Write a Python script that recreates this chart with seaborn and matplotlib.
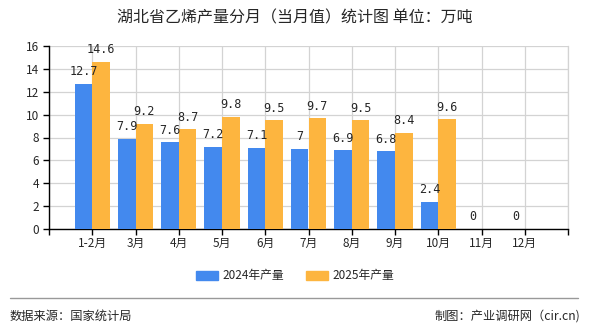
import numpy as np
import pandas as pd
import matplotlib
matplotlib.use("Agg")
import matplotlib.pyplot as plt
from matplotlib.lines import Line2D
import seaborn as sns

months = ["1-2月", "3月", "4月", "5月", "6月", "7月", "8月", "9月", "10月", "11月", "12月"]
v2024 = [12.7, 7.9, 7.6, 7.2, 7.1, 7, 6.9, 6.8, 2.4, 0, 0]
v2025 = [14.6, 9.2, 8.7, 9.8, 9.5, 9.7, 9.5, 8.4, 9.6, np.nan, np.nan]
series = ["2024年产量", "2025年产量"]
colors = ["#4389EE", "#FDB53F"]
yticks = [0, 2, 4, 6, 8, 10, 12, 14, 16]

sns.set_theme(style="white")
plt.rcParams["font.family"] = ["Noto Sans CJK SC", "DejaVu Sans"]

df = pd.DataFrame({
    "month": months * 2,
    "value": v2024 + v2025,
    "series": [series[0]] * len(months) + [series[1]] * len(months),
})

fig = plt.figure(figsize=(5.9, 3.3), dpi=100)
ax = fig.add_axes([49 / 590, 1 - 229 / 330, (568 - 49) / 590, (229 - 46) / 330])

sns.barplot(data=df, x="month", y="value", hue="series", order=months,
            hue_order=series, palette=colors, width=0.81, saturation=1,
            ax=ax, legend=False, zorder=3, linewidth=0, edgecolor="none")

ax.set_xlim(-1, 11)
ax.set_ylim(0, 16)
ax.set_xticks(range(-1, 12))
ax.set_xticklabels([""] + months + [""], fontsize=8.5)
ax.set_yticks(yticks)
ax.set_yticklabels([str(t) for t in yticks], fontsize=8.5)
ax.set_xlabel("")
ax.set_ylabel("")
ax.grid(True, color="#d3d3d3", linewidth=0.9, zorder=0)
ax.set_axisbelow(True)
ax.spines["top"].set_visible(False)
ax.spines["right"].set_color("#d3d3d3")
ax.spines["right"].set_linewidth(0.9)
for s in ["left", "bottom"]:
    ax.spines[s].set_color("black")
    ax.spines[s].set_linewidth(1)
ax.tick_params(axis="both", which="both", length=4, width=1, color="black",
               direction="out", pad=2, left=True, bottom=True)
ax.tick_params(axis="y", pad=3)

vals = [v2024, v2025]
for cont, vs in zip(ax.containers, vals):
    for patch, v in zip(cont.patches, vs):
        if np.isnan(v):
            continue
        lab = f"{v:g}"
        ax.annotate(lab, (patch.get_x() + patch.get_width() / 2, v),
                    xytext=(0, 4), textcoords="offset points",
                    ha="center", va="bottom", fontsize=8.5,
                    family=["DejaVu Sans Mono"], zorder=5)

fig.text(0.5, 1 - 18 / 330, "湖北省乙烯产量分月（当月值）统计图 单位：万吨",
         ha="center", va="center", fontsize=11.5)

handles = [plt.Rectangle((0, 0), 1, 1, color=c) for c in colors]
fig.legend(handles, series, loc="center", bbox_to_anchor=(0.5, 1 - 276 / 330),
           ncol=2, frameon=False, fontsize=8.5, handlelength=1.9,
           handleheight=0.9, columnspacing=1.8, handletextpad=0.4)

fig.add_artist(Line2D([10 / 590, 578 / 590], [1 - 298 / 330] * 2,
                      color="#999999", linewidth=1, transform=fig.transFigure))
fig.text(10 / 590, 1 - 316 / 330, "数据来源：国家统计局", ha="left",
         va="center", fontsize=8.8)
fig.text(580 / 590, 1 - 316 / 330, "制图：产业调研网（cir.cn)", ha="right",
         va="center", fontsize=8.8)

fig.savefig("out.png", dpi=100)
